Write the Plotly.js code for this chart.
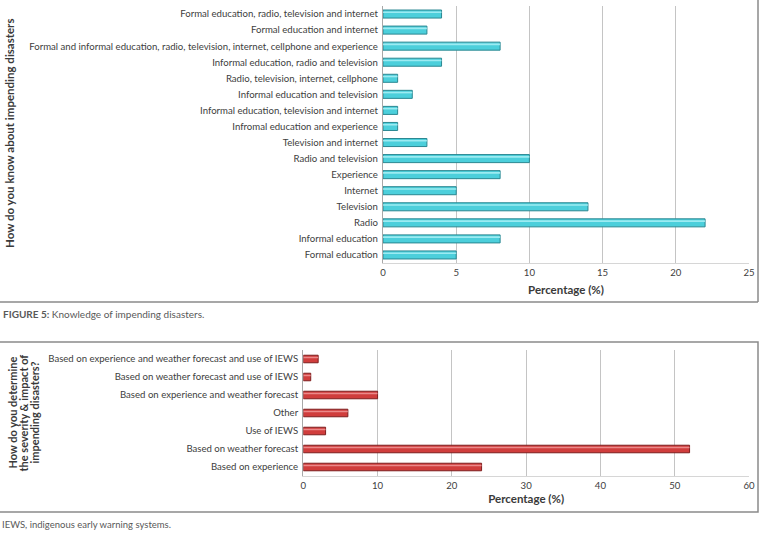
<!DOCTYPE html>
<html>
<head>
<meta charset="utf-8">
<script src="https://cdn.plot.ly/plotly-3.0.1.min.js"></script>
<style>html,body{margin:0;padding:0;background:#fff;}#chart{width:765px;height:537px;}</style>
</head>
<body>
<div id="chart"></div>
<script>
// Top chart: How do you know about impending disasters (bottom-to-top order)
const knowCategories = [
  "Formal education",
  "Informal education",
  "Radio",
  "Television",
  "Internet",
  "Experience",
  "Radio and television",
  "Television and internet",
  "Infromal education and experience",
  "Informal education, television and internet",
  "Informal education and television",
  "Radio, television, internet, cellphone",
  "Informal education, radio and television",
  "Formal and informal education, radio, television, internet, cellphone and experience",
  "Formal education and internet",
  "Formal education, radio, television and internet"
];
const knowValues = [5, 8, 22, 14, 5, 8, 10, 3, 1, 1, 2, 1, 4, 8, 3, 4];

// Bottom chart: How do you determine severity & impact (bottom-to-top order)
const severityCategories = [
  "Based on experience",
  "Based on weather forecast",
  "Use of IEWS",
  "Other",
  "Based on experience and weather forecast",
  "Based on weather forecast and use of IEWS",
  "Based on experience and weather forecast and use of IEWS"
];
const severityValues = [24, 52, 3, 6, 10, 1, 2];

const xTicks1 = [0, 5, 10, 15, 20, 25];
const xTicks2 = [0, 10, 20, 30, 40, 50, 60];

const W = 765, H = 537;
const px = x => x / W;
const py = y => 1 - y / H;

const FONT = "Lato, 'Open Sans', sans-serif";
const tickFont = {family: FONT, size: 9.6, color: "#404040"};
const boxColor = "#8a8a8a";
const titleColor = "#3a3a3a";

const traces = [
  {
    type: "bar", orientation: "h",
    x: knowValues, y: knowCategories,
    xaxis: "x", yaxis: "y",
    width: 0.5, offset: -0.25,
    marker: {color: "#4ccfdb", line: {color: "#2a8791", width: 1}},
    hoverinfo: "x+y"
  },
  {
    // highlight stripe for the glossy bar look
    type: "bar", orientation: "h",
    x: knowValues, y: knowCategories,
    xaxis: "x", yaxis: "y",
    width: 0.1, offset: 0.06,
    marker: {color: "rgba(170,240,246,0.85)", line: {width: 0}},
    hoverinfo: "skip"
  },
  {
    type: "bar", orientation: "h",
    x: severityValues, y: severityCategories,
    xaxis: "x2", yaxis: "y2",
    width: 0.42, offset: -0.21,
    marker: {color: "#d03d3c", line: {color: "#7d1d1d", width: 1}},
    hoverinfo: "x+y"
  },
  {
    type: "bar", orientation: "h",
    x: severityValues, y: severityCategories,
    xaxis: "x2", yaxis: "y2",
    width: 0.08, offset: 0.04,
    marker: {color: "rgba(240,150,150,0.85)", line: {width: 0}},
    hoverinfo: "skip"
  }
];

const layout = {
  width: W, height: H,
  margin: {l: 0, r: 0, t: 0, b: 0},
  paper_bgcolor: "#ffffff",
  plot_bgcolor: "#ffffff",
  showlegend: false,
  barmode: "overlay",
  font: {family: FONT, color: "#404040"},
  xaxis: {
    domain: [px(383), px(749)],
    anchor: "y",
    range: [0, 25],
    tickvals: xTicks1,
    ticks: "",
    showgrid: true, gridcolor: "#c4c4c4", gridwidth: 1.2,
    zeroline: false,
    showline: true, linecolor: "#d6d6d6", linewidth: 1,
    tickfont: tickFont,
    title: {text: "<b>Percentage (%)</b>", font: {family: FONT, size: 11.5, color: titleColor}, standoff: 9},
    automargin: false,
    fixedrange: true
  },
  yaxis: {
    domain: [py(263), py(6)],
    anchor: "x",
    type: "category",
    ticks: "",
    showgrid: false,
    showline: true, linecolor: "#a8a8a8", linewidth: 1.2,
    tickfont: tickFont,
    ticklabelstandoff: 2,
    automargin: false,
    fixedrange: true
  },
  xaxis2: {
    domain: [px(303.3), px(749)],
    anchor: "y2",
    range: [0, 60],
    tickvals: xTicks2,
    ticks: "",
    showgrid: true, gridcolor: "#c4c4c4", gridwidth: 1.2,
    zeroline: false,
    showline: true, linecolor: "#d6d6d6", linewidth: 1,
    tickfont: tickFont,
    title: {text: "<b>Percentage (%)</b>", font: {family: FONT, size: 11.5, color: titleColor}, standoff: 5},
    automargin: false,
    fixedrange: true
  },
  yaxis2: {
    domain: [py(476), py(350)],
    anchor: "x2",
    type: "category",
    ticks: "",
    showgrid: false,
    showline: true, linecolor: "#a8a8a8", linewidth: 1.2,
    tickfont: tickFont,
    ticklabelstandoff: 2,
    automargin: false,
    fixedrange: true
  },
  shapes: [
    // top box: right and bottom edges
    {type: "line", xref: "paper", yref: "paper", x0: px(758), x1: px(758), y0: py(-2), y1: py(302), line: {color: boxColor, width: 1.5}},
    {type: "line", xref: "paper", yref: "paper", x0: px(-2), x1: px(758), y0: py(302), y1: py(302), line: {color: boxColor, width: 1.5}},
    // bottom box
    {type: "rect", xref: "paper", yref: "paper", x0: px(-5), x1: px(758), y0: py(512), y1: py(342), line: {color: boxColor, width: 1.5}, fillcolor: "rgba(0,0,0,0)"}
  ],
  annotations: [
    {
      xref: "paper", yref: "paper", x: px(10), y: py(134),
      text: "<b>How do you know about impending disasters</b>",
      textangle: -90, showarrow: false, xanchor: "center", yanchor: "middle",
      font: {family: FONT, size: 11.5, color: titleColor}
    },
    {
      xref: "paper", yref: "paper", x: px(11.5), y: py(413),
      text: "<b>How do you determine</b>",
      textangle: -90, showarrow: false, xanchor: "center", yanchor: "middle",
      font: {family: FONT, size: 11, color: titleColor}
    },
    {
      xref: "paper", yref: "paper", x: px(22.5), y: py(413),
      text: "<b>the severity &amp; impact of</b>",
      textangle: -90, showarrow: false, xanchor: "center", yanchor: "middle",
      font: {family: FONT, size: 11, color: titleColor}
    },
    {
      xref: "paper", yref: "paper", x: px(33.5), y: py(413),
      text: "<b>impending disasters?</b>",
      textangle: -90, showarrow: false, xanchor: "center", yanchor: "middle",
      font: {family: FONT, size: 11, color: titleColor}
    },
    {
      xref: "paper", yref: "paper", x: px(1), y: py(314),
      text: "<b>FIGURE 5:</b> Knowledge of impending disasters.",
      showarrow: false, xanchor: "left", yanchor: "middle",
      font: {family: FONT, size: 10, color: "#595959"}
    },
    {
      xref: "paper", yref: "paper", x: px(0), y: py(524),
      text: "IEWS, indigenous early warning systems.",
      showarrow: false, xanchor: "left", yanchor: "middle",
      font: {family: FONT, size: 9.5, color: "#595959"}
    }
  ]
};

Plotly.newPlot("chart", traces, layout, {displayModeBar: false, staticPlot: true});
</script>
</body>
</html>
